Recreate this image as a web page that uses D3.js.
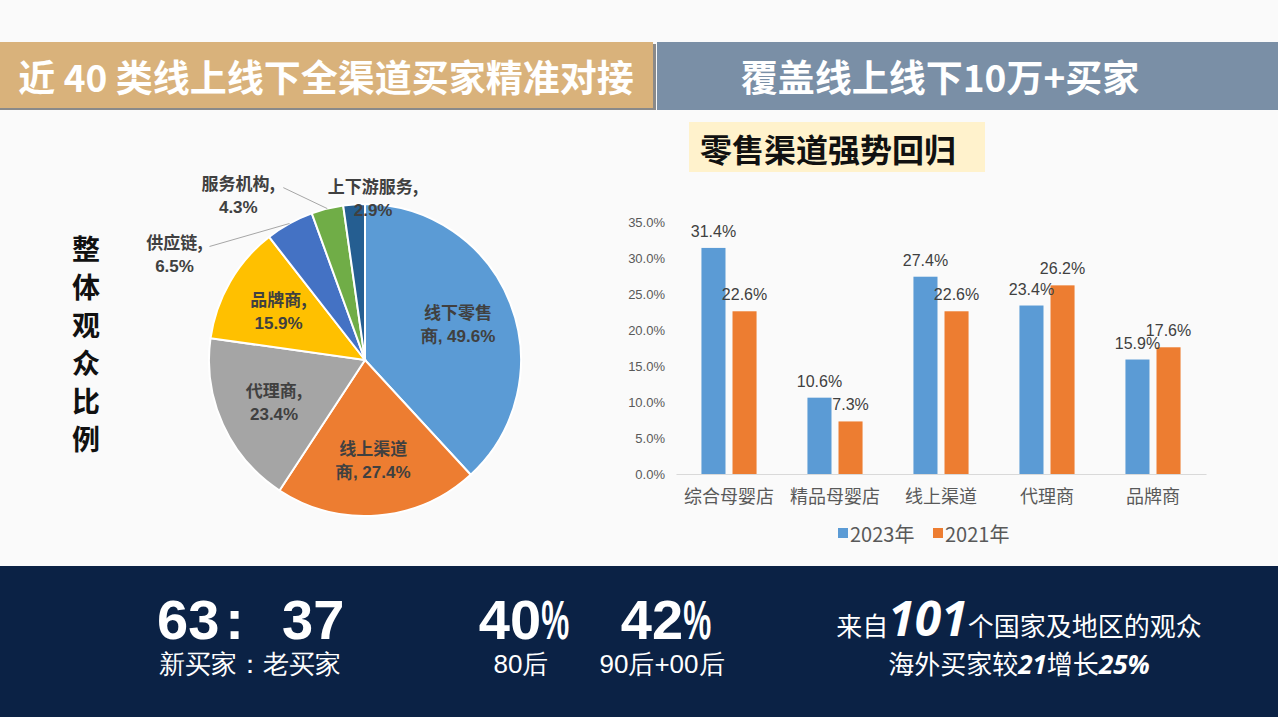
<!DOCTYPE html>
<html>
<head>
<meta charset="utf-8">
<script src="https://cdn.jsdelivr.net/npm/d3@7"></script>
<style>
body { margin: 0; background: #fafafa; }
svg { display: block; font-family: "Noto Sans CJK SC", "Noto Sans", sans-serif; }
</style>
</head>
<body>
<script>
// ---- data ----
var pieNames = ["线下零售商", "线上渠道商", "代理商", "品牌商", "供应链", "服务机构", "上下游服务"];
var pieValues = [49.6, 27.4, 23.4, 15.9, 6.5, 4.3, 2.9];
var pieColors = ["#5B9BD5", "#ED7D31", "#A5A5A5", "#FFC000", "#4472C4", "#70AD47", "#255E91"];

var barCategories = ["综合母婴店", "精品母婴店", "线上渠道", "代理商", "品牌商"];
var barSeries = ["2023年", "2021年"];
var values2023 = [31.4, 10.6, 27.4, 23.4, 15.9];
var values2021 = [22.6, 7.3, 22.6, 26.2, 17.6];
var barColors = ["#5B9BD5", "#ED7D31"];
var yTicks = [0, 5, 10, 15, 20, 25, 30, 35];

var sideTitle = ["整", "体", "观", "众", "比", "例"];

var width = 1278, height = 717;
var latin = '"Liberation Sans", Arial, sans-serif';

var svg = d3.select("body").append("svg")
    .attr("width", width)
    .attr("height", height);

// background
svg.append("rect").attr("width", width).attr("height", height).attr("fill", "#fafafa");

// ---- header bars ----
svg.append("rect").attr("x", 0).attr("y", 44).attr("width", 656).attr("height", 66).attr("fill", "#8a8a8a");
svg.append("rect").attr("x", 0).attr("y", 42).attr("width", 653).attr("height", 66).attr("fill", "#D9B27B");
svg.append("rect").attr("x", 657).attr("y", 42).attr("width", 621).attr("height", 68).attr("fill", "#7A8FA6");

svg.append("text")
    .attr("x", 326).attr("y", 76)
    .attr("text-anchor", "middle").attr("dominant-baseline", "central")
    .attr("fill", "#fff").style("font-size", "37px").style("font-weight", "bold")
    .text("近 40 类线上线下全渠道买家精准对接");

svg.append("text")
    .attr("x", 940).attr("y", 76)
    .attr("text-anchor", "middle").attr("dominant-baseline", "central")
    .attr("fill", "#fff").style("font-size", "37px").style("font-weight", "bold")
    .text("覆盖线上线下10万+买家");

// ---- vertical side title ----
svg.append("g").selectAll("text")
    .data(sideTitle)
  .enter().append("text")
    .attr("x", 86)
    .attr("y", function(d, i) { return 248 + i * 38; })
    .attr("text-anchor", "middle").attr("dominant-baseline", "central")
    .attr("fill", "#111").style("font-size", "28px").style("font-weight", "bold")
    .text(function(d) { return d; });

// ---- pie ----
var cx = 365, cy = 360, r = 156;
var pie = d3.pie().sort(null).value(function(d) { return d; });
var arcs = pie(pieValues);
var arc = d3.arc().innerRadius(0).outerRadius(r);
var labelArc = d3.arc().innerRadius(r * 0.64).outerRadius(r * 0.64);
var edgeArc = d3.arc().innerRadius(r).outerRadius(r);

var pieG = svg.append("g").attr("transform", "translate(" + cx + "," + cy + ")");

pieG.selectAll("path")
    .data(arcs)
  .enter().append("path")
    .attr("d", arc)
    .attr("fill", function(d, i) { return pieColors[i]; })
    .attr("stroke", "#fff")
    .attr("stroke-width", 2);

function pct(v) { return v.toFixed(1) + "%"; }

// inside labels (first four slices)
var insideCount = 4;
arcs.forEach(function(d, i) {
  if (i >= insideCount) return;
  var c = labelArc.centroid(d);
  var name = pieNames[i];
  var l1, l2;
  if (name.length > 3) { l1 = name.slice(0, 4); l2 = name.slice(4) + ", " + pct(pieValues[i]); }
  else { l1 = name + ","; l2 = pct(pieValues[i]); }
  var t = pieG.append("text")
      .attr("text-anchor", "middle")
      .attr("fill", "#404040").style("font-size", "17px").style("font-weight", "bold");
  t.append("tspan").attr("x", c[0]).attr("y", c[1] - 12).attr("dominant-baseline", "central").text(l1);
  t.append("tspan").attr("x", c[0]).attr("y", c[1] + 13).attr("dominant-baseline", "central")
      .style("font-family", latin).text(l2);
});

// outside labels: offsets from slice edge
var outside = {
  4: { tx: -115, ty: 18, lx: -80, ly: 23 },
  5: { tx: -89, ty: -26, lx: -44, ly: -21 },
  6: { tx: 19, ty: -19 }
};
arcs.forEach(function(d, i) {
  var o = outside[i];
  if (!o) return;
  var e = edgeArc.centroid(d);
  if (o.lx !== undefined) {
    pieG.append("line")
        .attr("x1", e[0]).attr("y1", e[1])
        .attr("x2", e[0] + o.lx).attr("y2", e[1] + o.ly)
        .attr("stroke", "#a6a6a6").attr("stroke-width", 1);
  }
  var t = pieG.append("text")
      .attr("text-anchor", "middle")
      .attr("fill", "#404040").style("font-size", "17px").style("font-weight", "bold");
  t.append("tspan").attr("x", e[0] + o.tx).attr("y", e[1] + o.ty).attr("dominant-baseline", "central")
      .text(pieNames[i] + ",");
  t.append("tspan").attr("x", e[0] + o.tx).attr("y", e[1] + o.ty + 25).attr("dominant-baseline", "central")
      .style("font-family", latin).text(pct(pieValues[i]));
});

// ---- bar chart title ----
svg.append("rect").attr("x", 689).attr("y", 122).attr("width", 296).attr("height", 50).attr("fill", "#FFF2CC");
svg.append("text")
    .attr("x", 700).attr("y", 148)
    .attr("dominant-baseline", "central")
    .attr("fill", "#111").style("font-size", "32px").style("font-weight", "bold")
    .text("零售渠道强势回归");

// ---- bar chart ----
var x0 = d3.scaleBand().domain(barCategories).range([676, 1206]).paddingInner(0.48).paddingOuter(0.24);
var x1 = d3.scaleBand().domain(barSeries).range([0, x0.bandwidth()]).paddingInner(0.226);
var y = d3.scaleLinear().domain([0, 35]).range([474, 222]);

var yAxis = d3.axisLeft(y).tickValues(yTicks).tickSize(0).tickPadding(0)
    .tickFormat(function(d) { return d.toFixed(1) + "%"; });
var yg = svg.append("g").attr("transform", "translate(665,0)").call(yAxis);
yg.select(".domain").remove();
yg.selectAll("text").attr("fill", "#595959").style("font-size", "13px").style("font-family", latin);

var xAxis = d3.axisBottom(x0).tickSize(0).tickPadding(16);
var xg = svg.append("g").attr("transform", "translate(0,474)").call(xAxis);
xg.select(".domain").attr("stroke", "#d9d9d9");
xg.selectAll("text").attr("fill", "#595959").style("font-size", "18px")
    .style("font-family", '"Noto Sans CJK SC", sans-serif');

var rows = barCategories.map(function(c, i) { return { cat: c, vals: [values2023[i], values2021[i]] }; });

var groups = svg.append("g").selectAll("g")
    .data(rows)
  .enter().append("g")
    .attr("transform", function(d) { return "translate(" + x0(d.cat) + ",0)"; });

groups.selectAll("rect")
    .data(function(d) { return d.vals.map(function(v, j) { return { s: barSeries[j], v: v, j: j }; }); })
  .enter().append("rect")
    .attr("x", function(d) { return x1(d.s); })
    .attr("y", function(d) { return y(d.v); })
    .attr("width", x1.bandwidth())
    .attr("height", function(d) { return y(0) - y(d.v); })
    .attr("fill", function(d) { return barColors[d.j]; });

groups.selectAll("text.val")
    .data(function(d) { return d.vals.map(function(v, j) { return { s: barSeries[j], v: v, j: j }; }); })
  .enter().append("text")
    .attr("class", "val")
    .attr("x", function(d) { return x1(d.s) + x1.bandwidth() / 2; })
    .attr("y", function(d) { return y(d.v) - 11; })
    .attr("text-anchor", "middle")
    .attr("fill", "#404040").style("font-size", "16px").style("font-family", latin)
    .text(function(d) { return d.v.toFixed(1) + "%"; });

// legend
var legend = svg.append("g").attr("transform", "translate(838,533)");
var lx = [0, 95];
barSeries.forEach(function(s, j) {
  legend.append("rect").attr("x", lx[j]).attr("y", -5).attr("width", 10).attr("height", 10).attr("fill", barColors[j]);
  legend.append("text").attr("x", lx[j] + 12).attr("y", 0).attr("dominant-baseline", "central")
      .attr("fill", "#595959").style("font-size", "20px").text(s);
});

// ---- bottom banner ----
svg.append("rect").attr("x", 0).attr("y", 566).attr("width", width).attr("height", height - 566).attr("fill", "#0B2245");

function bigText(x, yb, anchor) {
  return svg.append("text").attr("x", x).attr("y", yb).attr("text-anchor", anchor)
      .attr("fill", "#fff").style("font-size", "56px").style("font-weight", "bold").style("font-family", latin);
}
function small(xc, yb, str) {
  svg.append("text").attr("x", xc).attr("y", yb).attr("text-anchor", "middle")
      .attr("fill", "#fff").style("font-size", "26px").style("font-family", latin)
      .text(str);
}

var ratio = bigText(157, 639, "start");
ratio.append("tspan").text("63");
ratio.append("tspan").attr("dx", 6).text(":");
ratio.append("tspan").attr("x", 282).text("37");
small(250, 673, "新买家：老买家");

function pctBig(xc, str) {
  var t = bigText(xc, 639, "middle");
  t.append("tspan").text(str.replace("%", ""));
  t.append("tspan").attr("textLength", 28).attr("lengthAdjust", "spacingAndGlyphs").text("%");
}
pctBig(524, "40%");
small(521, 673, "80后");
pctBig(666, "42%");
small(662, 673, "90后+00后");

var l1 = svg.append("text").attr("x", 1019).attr("y", 636).attr("text-anchor", "middle")
    .attr("fill", "#fff").style("font-size", "26px");
l1.append("tspan").text("来自");
l1.append("tspan").style("font-size", "48px").style("font-weight", "bold").style("font-style", "italic")
    .style("font-family", '"Open Sans", sans-serif').text("101");
l1.append("tspan").text("个国家及地区的观众");

var l2 = svg.append("text").attr("x", 1019).attr("y", 674).attr("text-anchor", "middle")
    .attr("fill", "#fff").style("font-size", "26px");
l2.append("tspan").text("海外买家较");
l2.append("tspan").style("font-weight", "bold").style("font-style", "italic")
    .style("font-family", '"Open Sans", sans-serif').text("21");
l2.append("tspan").text("增长");
l2.append("tspan").style("font-weight", "bold").style("font-style", "italic")
    .style("font-family", '"Open Sans", sans-serif').text("25%");
</script>
</body>
</html>
